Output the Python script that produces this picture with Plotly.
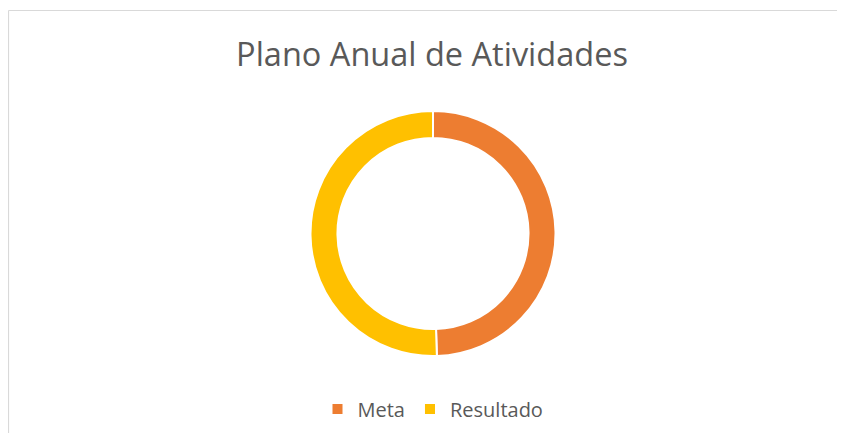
import plotly.graph_objects as go

labels = ["Meta", "Resultado"]
values = [49, 50]
colors = ["#ED7D31", "#FFC000"]
title_text = "Plano Anual de Atividades"

# page has an 8px body margin; figure sized to fit the window exactly
W, H = 829, 425
off = 8
cx, cy, r = 433 - off, 233.5 - off, 122.5

fig = go.Figure(go.Pie(
    labels=labels,
    values=values,
    hole=0.78,
    sort=False,
    direction="clockwise",
    rotation=0,
    textinfo="none",
    hoverinfo="label+value+percent",
    marker=dict(colors=colors, line=dict(color="white", width=2)),
    domain=dict(x=[(cx - 200) / W, (cx + 200) / W],
                y=[(H - (cy + r)) / H, (H - (cy - r)) / H]),
))

border = dict(color="#D9D9D9", width=1.2)
fig.update_layout(
    width=W, height=H,
    margin=dict(l=0, r=0, t=0, b=0),
    paper_bgcolor="white",
    title=dict(text=title_text, x=(432 - off) / W, xanchor="center",
               y=1 - (55 - off) / H, yanchor="middle",
               font=dict(family="Open Sans", size=32.5, color="#595959")),
    legend=dict(orientation="h", x=(433 - off) / W, xanchor="center",
                y=(H - (409 - off)) / H, yanchor="middle",
                font=dict(family="Open Sans", size=20, color="#595959"),
                itemwidth=30),
    shapes=[
        dict(type="line", xref="paper", yref="paper",
             x0=0.5 / W, x1=1, y0=1 - 2.5 / H, y1=1 - 2.5 / H, line=border),
        dict(type="line", xref="paper", yref="paper",
             x0=0.5 / W, x1=0.5 / W, y0=0, y1=1 - 2.5 / H, line=border),
    ],
)

fig.write_html("out.html")
